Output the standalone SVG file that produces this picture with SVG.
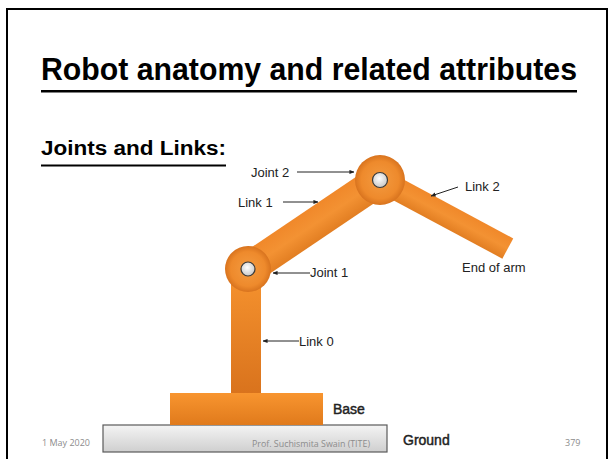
<svg xmlns="http://www.w3.org/2000/svg" width="611" height="459" viewBox="0 0 611 459">
  <defs>
    <linearGradient id="gOrangeV" x1="0" y1="0" x2="0" y2="1">
      <stop offset="0" stop-color="#f7942f"/>
      <stop offset="1" stop-color="#d9731d"/>
    </linearGradient>
    <linearGradient id="gBase" x1="0" y1="0" x2="0" y2="1">
      <stop offset="0" stop-color="#f8952f"/>
      <stop offset="1" stop-color="#e07a1c"/>
    </linearGradient>
    <linearGradient id="gLink" x1="0" y1="0" x2="0" y2="1">
      <stop offset="0" stop-color="#f0882a"/>
      <stop offset="0.5" stop-color="#f39233"/>
      <stop offset="1" stop-color="#e27e22"/>
    </linearGradient>
    <linearGradient id="gGround" x1="0" y1="0" x2="0" y2="1">
      <stop offset="0" stop-color="#f4f4f4"/>
      <stop offset="1" stop-color="#cfcfcf"/>
    </linearGradient>
    <radialGradient id="gJoint" cx="0.5" cy="0.5" r="0.5">
      <stop offset="0" stop-color="#f39a40"/>
      <stop offset="0.75" stop-color="#ee8a2c"/>
      <stop offset="1" stop-color="#d8731e"/>
    </radialGradient>
    <radialGradient id="gPin" cx="0.45" cy="0.4" r="0.6">
      <stop offset="0" stop-color="#ffffff"/>
      <stop offset="1" stop-color="#c8c8c8"/>
    </radialGradient>
    <marker id="arrow" viewBox="0 0 6 6" refX="5.5" refY="3" markerWidth="5" markerHeight="5" orient="auto" markerUnits="userSpaceOnUse">
      <path d="M0,0.5 L6,3 L0,5.5 Z" fill="#222"/>
    </marker>
  </defs>
  <style>
    .title { font-family: "Liberation Sans", Arial, sans-serif; font-weight: bold; fill: #000; }
    .lbl { font-family: "Liberation Sans", Arial, sans-serif; font-size: 13px; fill: #222; }
    .heavy { font-size: 14px; stroke: #222; stroke-width: 0.45; }
    .foot { font-family: "Open Sans", "Liberation Sans", sans-serif; font-size: 9px; fill: #8c8c8c; }
    .conn { stroke: #222; stroke-width: 1; fill: none; marker-end: url(#arrow); }
  </style>

  <rect x="0" y="0" width="611" height="459" fill="#ffffff"/>
  <!-- slide frame -->
  <path d="M7,459 V9 H607 V459" fill="none" stroke="#000" stroke-width="2"/>

  <!-- headings -->
  <g id="heading">
    <text class="title" x="41" y="80" font-size="32" textLength="536" lengthAdjust="spacingAndGlyphs">Robot anatomy and related attributes</text>
    <rect x="41" y="90" width="536" height="2.5" fill="#000"/>
    <text class="title" x="41" y="155" font-size="20" textLength="185" lengthAdjust="spacingAndGlyphs">Joints and Links:</text>
    <rect x="41" y="164.5" width="185" height="2" fill="#000"/>
  </g>

  <!-- ground plate -->
  <g id="ground">
    <rect x="103" y="425" width="284" height="27" fill="url(#gGround)" stroke="#5a5a5a" stroke-width="1.2"/>
  </g>

  <!-- base block -->
  <g id="base">
    <rect x="170" y="393" width="153" height="32" fill="url(#gBase)"/>
  </g>

  <!-- link 0: vertical column -->
  <g id="link0">
    <rect x="231" y="268" width="30" height="125" fill="url(#gOrangeV)"/>
  </g>

  <!-- link 1: joint 1 to joint 2 -->
  <g id="link1" transform="translate(314 224.5) rotate(-34)">
    <rect x="-80" y="-16" width="160" height="32" fill="url(#gLink)"/>
  </g>

  <!-- link 2: joint 2 to end of arm -->
  <g id="link2" transform="translate(380 180) rotate(28.2)">
    <rect x="0" y="-11.5" width="145" height="23" fill="url(#gLink)"/>
  </g>

  <!-- joints -->
  <g id="joint1">
    <circle cx="248" cy="269" r="23" fill="url(#gJoint)"/>
    <circle cx="248" cy="269" r="7" fill="url(#gPin)" stroke="#3a3a3a" stroke-width="1.2"/>
  </g>
  <g id="joint2">
    <circle cx="380" cy="180" r="25" fill="url(#gJoint)"/>
    <circle cx="380" cy="180" r="7.5" fill="url(#gPin)" stroke="#3a3a3a" stroke-width="1.2"/>
  </g>

  <!-- label leaders -->
  <g id="connectors">
    <line class="conn" x1="297" y1="172" x2="354" y2="172"/>
    <line class="conn" x1="283" y1="202" x2="318" y2="202"/>
    <line class="conn" x1="310" y1="273" x2="273" y2="273"/>
    <line class="conn" x1="458" y1="187" x2="431" y2="196"/>
    <line class="conn" x1="299" y1="341" x2="263" y2="341"/>
  </g>

  <!-- labels -->
  <g id="labels">
    <text class="lbl" x="251" y="177">Joint 2</text>
    <text class="lbl" x="238" y="207">Link 1</text>
    <text class="lbl" x="310" y="277">Joint 1</text>
    <text class="lbl" x="465" y="191">Link 2</text>
    <text class="lbl" x="462" y="272">End of arm</text>
    <text class="lbl" x="299" y="346">Link 0</text>
    <text class="lbl heavy" x="333" y="414">Base</text>
    <text class="lbl heavy" x="403" y="445">Ground</text>
  </g>

  <!-- footer -->
  <g id="footer">
    <text class="foot" x="42" y="446">1 May 2020</text>
    <text class="foot" x="252" y="447" textLength="118" lengthAdjust="spacingAndGlyphs">Prof. Suchismita Swain (TITE)</text>
    <text class="foot" x="565" y="446">379</text>
  </g>
</svg>
